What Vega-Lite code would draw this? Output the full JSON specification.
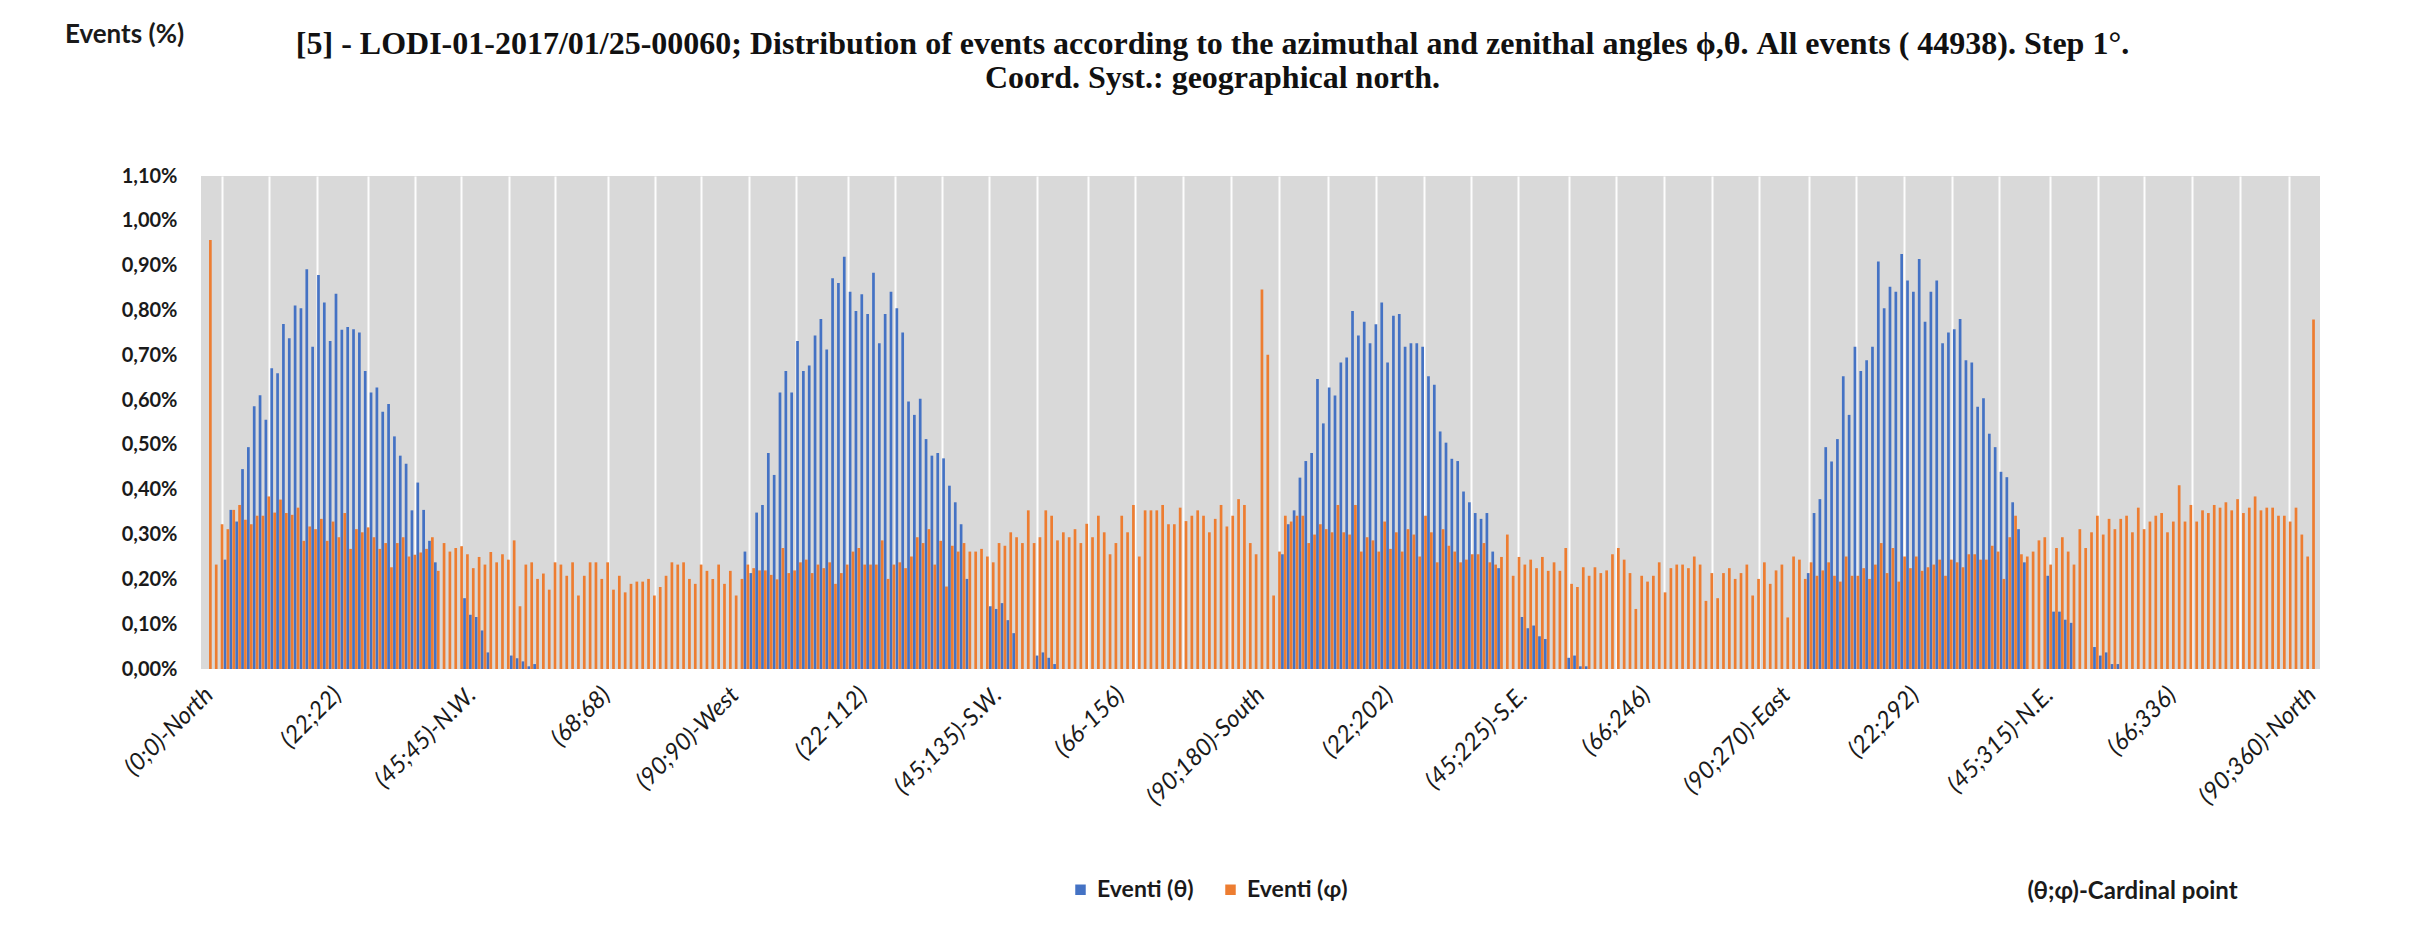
{
  "$schema": "https://vega.github.io/schema/vega-lite/v6.json",
  "width": 2119,
  "height": 493,
  "autosize": "none",
  "padding": {"left": 201, "top": 176, "right": 100, "bottom": 257},
  "background": "white",
  "config": {
    "font": "Lato",
    "view": {"stroke": null, "fill": "#D9D9D9"},
    "legend": {"orient": "none", "legendX": 868, "legendY": 702, "direction": "horizontal", "title": null, "symbolType": "square", "symbolSize": 110, "symbolStrokeWidth": 0, "labelFont": "Lato", "labelFontSize": 23, "labelFontWeight": "bold", "labelColor": "#1a1a1a", "columnPadding": 26, "symbolOffset": 0, "labelOffset": 5}
  },
  "title": {
    "text": ["[5] - LODI-01-2017/01/25-00060; Distribution of events according to the azimuthal and zenithal angles ϕ,θ. All events ( 44938). Step 1°.", "Coord. Syst.: geographical north."],
    "anchor": "middle",
    "frame": "group",
    "font": "Liberation Serif",
    "fontSize": 32,
    "fontWeight": "bold",
    "color": "#111111",
    "lineHeight": 34,
    "offset": -74,
    "dx": -48
  },
  "data": {"values": [
{"c":0,"t":0,"p":0.957},{"c":1,"t":0,"p":0.233},{"c":2,"t":0,"p":0.323},{"c":3,"t":0.244,"p":0.312},{"c":4,"t":0.355,"p":0.355},{"c":5,"t":0.329,"p":0.366},{"c":6,"t":0.446,"p":0.333},{"c":7,"t":0.495,"p":0.323},{"c":8,"t":0.586,"p":0.342},{"c":9,"t":0.611,"p":0.342},
{"c":10,"t":0.556,"p":0.385},{"c":11,"t":0.671,"p":0.349},{"c":12,"t":0.66,"p":0.378},{"c":13,"t":0.77,"p":0.348},{"c":14,"t":0.738,"p":0.344},{"c":15,"t":0.811,"p":0.36},{"c":16,"t":0.805,"p":0.286},{"c":17,"t":0.892,"p":0.318},{"c":18,"t":0.719,"p":0.312},{"c":19,"t":0.879,"p":0.335},
{"c":20,"t":0.818,"p":0.286},{"c":21,"t":0.732,"p":0.329},{"c":22,"t":0.837,"p":0.294},{"c":23,"t":0.757,"p":0.348},{"c":24,"t":0.763,"p":0.268},{"c":25,"t":0.758,"p":0.312},{"c":26,"t":0.751,"p":0.305},{"c":27,"t":0.665,"p":0.316},{"c":28,"t":0.617,"p":0.294},{"c":29,"t":0.628,"p":0.268},
{"c":30,"t":0.574,"p":0.281},{"c":31,"t":0.591,"p":0.227},{"c":32,"t":0.519,"p":0.281},{"c":33,"t":0.476,"p":0.294},{"c":34,"t":0.458,"p":0.251},{"c":35,"t":0.354,"p":0.255},{"c":36,"t":0.416,"p":0.26},{"c":37,"t":0.355,"p":0.268},{"c":38,"t":0.286,"p":0.294},{"c":39,"t":0.238,"p":0.219},
{"c":40,"t":0,"p":0.281},{"c":41,"t":0,"p":0.262},{"c":42,"t":0,"p":0.27},{"c":43,"t":0,"p":0.274},{"c":44,"t":0.158,"p":0.256},{"c":45,"t":0.121,"p":0.225},{"c":46,"t":0.116,"p":0.25},{"c":47,"t":0.086,"p":0.233},{"c":48,"t":0.037,"p":0.261},{"c":49,"t":0,"p":0.238},
{"c":50,"t":0,"p":0.256},{"c":51,"t":0,"p":0.244},{"c":52,"t":0.03,"p":0.287},{"c":53,"t":0.024,"p":0.14},{"c":54,"t":0.017,"p":0.233},{"c":55,"t":0.006,"p":0.238},{"c":56,"t":0.011,"p":0.201},{"c":57,"t":0,"p":0.213},{"c":58,"t":0,"p":0.177},{"c":59,"t":0,"p":0.238},
{"c":60,"t":0,"p":0.233},{"c":61,"t":0,"p":0.208},{"c":62,"t":0,"p":0.238},{"c":63,"t":0,"p":0.164},{"c":64,"t":0,"p":0.208},{"c":65,"t":0,"p":0.238},{"c":66,"t":0,"p":0.238},{"c":67,"t":0,"p":0.201},{"c":68,"t":0,"p":0.238},{"c":69,"t":0,"p":0.177},
{"c":70,"t":0,"p":0.208},{"c":71,"t":0,"p":0.171},{"c":72,"t":0,"p":0.19},{"c":73,"t":0,"p":0.195},{"c":74,"t":0,"p":0.195},{"c":75,"t":0,"p":0.201},{"c":76,"t":0,"p":0.164},{"c":77,"t":0,"p":0.183},{"c":78,"t":0,"p":0.208},{"c":79,"t":0,"p":0.238},
{"c":80,"t":0,"p":0.233},{"c":81,"t":0,"p":0.238},{"c":82,"t":0,"p":0.201},{"c":83,"t":0,"p":0.19},{"c":84,"t":0,"p":0.233},{"c":85,"t":0,"p":0.219},{"c":86,"t":0,"p":0.201},{"c":87,"t":0,"p":0.233},{"c":88,"t":0,"p":0.19},{"c":89,"t":0,"p":0.219},
{"c":90,"t":0,"p":0.164},{"c":91,"t":0,"p":0.201},{"c":92,"t":0.262,"p":0.233},{"c":93,"t":0.214,"p":0.225},{"c":94,"t":0.349,"p":0.22},{"c":95,"t":0.366,"p":0.22},{"c":96,"t":0.482,"p":0.21},{"c":97,"t":0.433,"p":0.2},{"c":98,"t":0.617,"p":0.27},{"c":99,"t":0.665,"p":0.214},
{"c":100,"t":0.617,"p":0.22},{"c":101,"t":0.732,"p":0.238},{"c":102,"t":0.665,"p":0.244},{"c":103,"t":0.677,"p":0.214},{"c":104,"t":0.744,"p":0.233},{"c":105,"t":0.781,"p":0.225},{"c":106,"t":0.713,"p":0.238},{"c":107,"t":0.872,"p":0.19},{"c":108,"t":0.861,"p":0.214},{"c":109,"t":0.92,"p":0.233},
{"c":110,"t":0.842,"p":0.262},{"c":111,"t":0.799,"p":0.27},{"c":112,"t":0.836,"p":0.233},{"c":113,"t":0.792,"p":0.233},{"c":114,"t":0.884,"p":0.233},{"c":115,"t":0.727,"p":0.287},{"c":116,"t":0.792,"p":0.201},{"c":117,"t":0.842,"p":0.233},{"c":118,"t":0.805,"p":0.238},{"c":119,"t":0.751,"p":0.225},
{"c":120,"t":0.597,"p":0.251},{"c":121,"t":0.567,"p":0.294},{"c":122,"t":0.603,"p":0.281},{"c":123,"t":0.513,"p":0.312},{"c":124,"t":0.476,"p":0.233},{"c":125,"t":0.482,"p":0.286},{"c":126,"t":0.47,"p":0.184},{"c":127,"t":0.409,"p":0.275},{"c":128,"t":0.372,"p":0.262},{"c":129,"t":0.323,"p":0.281},
{"c":130,"t":0.201,"p":0.262},{"c":131,"t":0,"p":0.262},{"c":132,"t":0,"p":0.268},{"c":133,"t":0,"p":0.251},{"c":134,"t":0.14,"p":0.238},{"c":135,"t":0.134,"p":0.281},{"c":136,"t":0.147,"p":0.275},{"c":137,"t":0.109,"p":0.305},{"c":138,"t":0.08,"p":0.294},{"c":139,"t":0,"p":0.281},
{"c":140,"t":0,"p":0.354},{"c":141,"t":0,"p":0.281},{"c":142,"t":0.03,"p":0.294},{"c":143,"t":0.037,"p":0.354},{"c":144,"t":0.025,"p":0.342},{"c":145,"t":0.011,"p":0.287},{"c":146,"t":0,"p":0.305},{"c":147,"t":0,"p":0.294},{"c":148,"t":0,"p":0.312},{"c":149,"t":0,"p":0.281},
{"c":150,"t":0,"p":0.324},{"c":151,"t":0,"p":0.294},{"c":152,"t":0,"p":0.342},{"c":153,"t":0,"p":0.305},{"c":154,"t":0,"p":0.256},{"c":155,"t":0,"p":0.281},{"c":156,"t":0,"p":0.342},{"c":157,"t":0,"p":0.305},{"c":158,"t":0,"p":0.366},{"c":159,"t":0,"p":0.251},
{"c":160,"t":0,"p":0.354},{"c":161,"t":0,"p":0.354},{"c":162,"t":0,"p":0.354},{"c":163,"t":0,"p":0.366},{"c":164,"t":0,"p":0.323},{"c":165,"t":0,"p":0.323},{"c":166,"t":0,"p":0.36},{"c":167,"t":0,"p":0.33},{"c":168,"t":0,"p":0.342},{"c":169,"t":0,"p":0.354},
{"c":170,"t":0,"p":0.342},{"c":171,"t":0,"p":0.305},{"c":172,"t":0,"p":0.335},{"c":173,"t":0,"p":0.366},{"c":174,"t":0,"p":0.318},{"c":175,"t":0,"p":0.342},{"c":176,"t":0,"p":0.379},{"c":177,"t":0,"p":0.366},{"c":178,"t":0,"p":0.281},{"c":179,"t":0,"p":0.256},
{"c":180,"t":0,"p":0.847},{"c":181,"t":0,"p":0.701},{"c":182,"t":0,"p":0.164},{"c":183,"t":0,"p":0.262},{"c":184,"t":0.256,"p":0.342},{"c":185,"t":0.323,"p":0.329},{"c":186,"t":0.354,"p":0.342},{"c":187,"t":0.427,"p":0.342},{"c":188,"t":0.464,"p":0.281},{"c":189,"t":0.482,"p":0.3},
{"c":190,"t":0.647,"p":0.323},{"c":191,"t":0.548,"p":0.312},{"c":192,"t":0.628,"p":0.305},{"c":193,"t":0.61,"p":0.366},{"c":194,"t":0.684,"p":0.305},{"c":195,"t":0.695,"p":0.3},{"c":196,"t":0.799,"p":0.366},{"c":197,"t":0.744,"p":0.262},{"c":198,"t":0.775,"p":0.294},{"c":199,"t":0.727,"p":0.287},
{"c":200,"t":0.769,"p":0.262},{"c":201,"t":0.818,"p":0.329},{"c":202,"t":0.684,"p":0.268},{"c":203,"t":0.788,"p":0.305},{"c":204,"t":0.792,"p":0.262},{"c":205,"t":0.719,"p":0.312},{"c":206,"t":0.727,"p":0.3},{"c":207,"t":0.727,"p":0.251},{"c":208,"t":0.719,"p":0.342},{"c":209,"t":0.653,"p":0.305},
{"c":210,"t":0.634,"p":0.238},{"c":211,"t":0.53,"p":0.312},{"c":212,"t":0.505,"p":0.275},{"c":213,"t":0.469,"p":0.262},{"c":214,"t":0.464,"p":0.238},{"c":215,"t":0.396,"p":0.244},{"c":216,"t":0.372,"p":0.256},{"c":217,"t":0.348,"p":0.256},{"c":218,"t":0.335,"p":0.281},{"c":219,"t":0.348,"p":0.238},
{"c":220,"t":0.262,"p":0.233},{"c":221,"t":0.225,"p":0.25},{"c":222,"t":0,"p":0.3},{"c":223,"t":0,"p":0.208},{"c":224,"t":0,"p":0.25},{"c":225,"t":0.116,"p":0.233},{"c":226,"t":0.091,"p":0.244},{"c":227,"t":0.097,"p":0.225},{"c":228,"t":0.073,"p":0.25},{"c":229,"t":0.067,"p":0.219},
{"c":230,"t":0,"p":0.238},{"c":231,"t":0,"p":0.219},{"c":232,"t":0,"p":0.27},{"c":233,"t":0.025,"p":0.19},{"c":234,"t":0.03,"p":0.183},{"c":235,"t":0.006,"p":0.227},{"c":236,"t":0.006,"p":0.208},{"c":237,"t":0,"p":0.227},{"c":238,"t":0,"p":0.214},{"c":239,"t":0,"p":0.22},
{"c":240,"t":0,"p":0.256},{"c":241,"t":0,"p":0.27},{"c":242,"t":0,"p":0.244},{"c":243,"t":0,"p":0.214},{"c":244,"t":0,"p":0.134},{"c":245,"t":0,"p":0.208},{"c":246,"t":0,"p":0.195},{"c":247,"t":0,"p":0.208},{"c":248,"t":0,"p":0.238},{"c":249,"t":0,"p":0.171},
{"c":250,"t":0,"p":0.225},{"c":251,"t":0,"p":0.233},{"c":252,"t":0,"p":0.233},{"c":253,"t":0,"p":0.225},{"c":254,"t":0,"p":0.251},{"c":255,"t":0,"p":0.233},{"c":256,"t":0,"p":0.152},{"c":257,"t":0,"p":0.214},{"c":258,"t":0,"p":0.158},{"c":259,"t":0,"p":0.214},
{"c":260,"t":0,"p":0.225},{"c":261,"t":0,"p":0.201},{"c":262,"t":0,"p":0.214},{"c":263,"t":0,"p":0.233},{"c":264,"t":0,"p":0.164},{"c":265,"t":0,"p":0.201},{"c":266,"t":0,"p":0.238},{"c":267,"t":0,"p":0.19},{"c":268,"t":0,"p":0.22},{"c":269,"t":0,"p":0.233},
{"c":270,"t":0,"p":0.115},{"c":271,"t":0,"p":0.251},{"c":272,"t":0,"p":0.244},{"c":273,"t":0,"p":0.201},{"c":274,"t":0.214,"p":0.238},{"c":275,"t":0.348,"p":0.208},{"c":276,"t":0.379,"p":0.22},{"c":277,"t":0.495,"p":0.238},{"c":278,"t":0.463,"p":0.208},{"c":279,"t":0.513,"p":0.195},
{"c":280,"t":0.653,"p":0.251},{"c":281,"t":0.567,"p":0.208},{"c":282,"t":0.719,"p":0.208},{"c":283,"t":0.665,"p":0.225},{"c":284,"t":0.689,"p":0.201},{"c":285,"t":0.719,"p":0.233},{"c":286,"t":0.909,"p":0.281},{"c":287,"t":0.805,"p":0.214},{"c":288,"t":0.853,"p":0.27},{"c":289,"t":0.842,"p":0.195},
{"c":290,"t":0.926,"p":0.251},{"c":291,"t":0.867,"p":0.225},{"c":292,"t":0.842,"p":0.251},{"c":293,"t":0.915,"p":0.219},{"c":294,"t":0.775,"p":0.227},{"c":295,"t":0.842,"p":0.233},{"c":296,"t":0.867,"p":0.244},{"c":297,"t":0.727,"p":0.208},{"c":298,"t":0.751,"p":0.244},{"c":299,"t":0.758,"p":0.238},
{"c":300,"t":0.781,"p":0.227},{"c":301,"t":0.689,"p":0.256},{"c":302,"t":0.684,"p":0.256},{"c":303,"t":0.585,"p":0.244},{"c":304,"t":0.604,"p":0.244},{"c":305,"t":0.525,"p":0.275},{"c":306,"t":0.495,"p":0.262},{"c":307,"t":0.44,"p":0.201},{"c":308,"t":0.428,"p":0.294},{"c":309,"t":0.372,"p":0.342},
{"c":310,"t":0.312,"p":0.256},{"c":311,"t":0.238,"p":0.251},{"c":312,"t":0,"p":0.262},{"c":313,"t":0,"p":0.287},{"c":314,"t":0,"p":0.294},{"c":315,"t":0.208,"p":0.233},{"c":316,"t":0.128,"p":0.27},{"c":317,"t":0.128,"p":0.294},{"c":318,"t":0.11,"p":0.262},{"c":319,"t":0.103,"p":0.233},
{"c":320,"t":0,"p":0.312},{"c":321,"t":0,"p":0.27},{"c":322,"t":0,"p":0.305},{"c":323,"t":0.049,"p":0.342},{"c":324,"t":0.03,"p":0.3},{"c":325,"t":0.037,"p":0.335},{"c":326,"t":0.011,"p":0.312},{"c":327,"t":0.011,"p":0.335},{"c":328,"t":0,"p":0.342},{"c":329,"t":0,"p":0.305},
{"c":330,"t":0,"p":0.36},{"c":331,"t":0,"p":0.312},{"c":332,"t":0,"p":0.329},{"c":333,"t":0,"p":0.342},{"c":334,"t":0,"p":0.348},{"c":335,"t":0,"p":0.305},{"c":336,"t":0,"p":0.329},{"c":337,"t":0,"p":0.41},{"c":338,"t":0,"p":0.329},{"c":339,"t":0,"p":0.366},
{"c":340,"t":0,"p":0.329},{"c":341,"t":0,"p":0.354},{"c":342,"t":0,"p":0.348},{"c":343,"t":0,"p":0.366},{"c":344,"t":0,"p":0.36},{"c":345,"t":0,"p":0.372},{"c":346,"t":0,"p":0.354},{"c":347,"t":0,"p":0.379},{"c":348,"t":0,"p":0.348},{"c":349,"t":0,"p":0.36},
{"c":350,"t":0,"p":0.385},{"c":351,"t":0,"p":0.354},{"c":352,"t":0,"p":0.36},{"c":353,"t":0,"p":0.36},{"c":354,"t":0,"p":0.342},{"c":355,"t":0,"p":0.342},{"c":356,"t":0,"p":0.329},{"c":357,"t":0,"p":0.36},{"c":358,"t":0,"p":0.3},{"c":359,"t":0,"p":0.251},
{"c":360,"t":0,"p":0.78}
  ]},
  "layer": [
    {
      "mark": {"type": "bar", "orient": "vertical", "width": 2.7, "xOffset": -1.45},
      "encoding": {
        "x": {"field": "c", "type": "quantitative", "scale": {"domain": [-0.5, 360.5], "nice": false, "zero": false},
          "axis": {"orient": "bottom", "values": [0,22,45,68,90,112,135,156,180,202,225,246,270,292,315,336,360], "grid": false, "domain": false, "ticks": false,
            "labelAngle": -45, "labelAlign": "right", "labelBaseline": "middle", "labelPadding": 22, "labelFont": "Lato", "labelFontSize": 24, "labelFontStyle": "italic", "labelColor": "#1a1a1a", "labelOverlap": false, "labelFlush": false, "labelBound": false,
            "labelExpr": "datum.value==0?'(0;0)-North':datum.value==22?'(22;22)':datum.value==45?'(45;45)-N.W.':datum.value==68?'(68;68)':datum.value==90?'(90;90)-West':datum.value==112?'(22-112)':datum.value==135?'(45;135)-S.W.':datum.value==156?'(66-156)':datum.value==180?'(90;180)-South':datum.value==202?'(22;202)':datum.value==225?'(45;225)-S.E.':datum.value==246?'(66;246)':datum.value==270?'(90;270)-East':datum.value==292?'(22;292)':datum.value==315?'(45;315)-N.E.':datum.value==336?'(66;336)':'(90;360)-North'",
            "title": "(θ;φ)-Cardinal point", "titleX": 1931, "titleY": 222, "titleAlign": "center", "titleBaseline": "middle", "titleFont": "Lato", "titleFontSize": 24, "titleFontWeight": "bold", "titleColor": "#1a1a1a"}},
        "y": {"field": "t", "type": "quantitative", "scale": {"domain": [0, 1.1], "nice": false, "zero": true},
          "axis": {"values": [0,0.1,0.2,0.3,0.4,0.5,0.6,0.7,0.8,0.9,1.0,1.1], "grid": false, "domain": false, "ticks": false, "labelPadding": 24, "labelFont": "Lato", "labelFontSize": 20, "labelFontWeight": "bold", "labelColor": "#1a1a1a",
            "labelExpr": "replace(format(datum.value, '.2f'), '.', ',') + '%'",
            "title": "Events (%)", "titleAngle": 0, "titleX": -77, "titleY": -142, "titleAlign": "center", "titleBaseline": "middle", "titleFont": "Lato", "titleFontSize": 26, "titleFontWeight": "bold", "titleColor": "#1a1a1a"}},
        "color": {"datum": "Eventi (θ)", "type": "nominal", "scale": {"domain": ["Eventi (θ)", "Eventi (φ)"], "range": ["#4472C4", "#ED7D31"]}}
      }
    },
    {
      "mark": {"type": "bar", "orient": "vertical", "width": 2.7, "xOffset": 1.45},
      "encoding": {
        "x": {"field": "c", "type": "quantitative",
          "axis": {"orient": "top", "values": [2.25,10.36,18.43,27.2,35.3,43.1,51.4,59.3,68.3,76.4,84.3,92.4,100.5,109.4,117.4,125.5,133.6,141.7,150.5,158.6,166.8,175.0,183.2,191.6,199.8,208.0,216.0,224.1,232.8,240.8,249.0,257.2,265.3,273.9,282.0,290.2,298.3,306.4,315.1,323.3,331.3,339.5,347.6,356.0],
            "grid": true, "gridColor": "#ffffff", "gridWidth": 2, "gridOpacity": 0.95, "labels": false, "ticks": false, "domain": false, "title": null}},
        "y": {"field": "p", "type": "quantitative"},
        "color": {"datum": "Eventi (φ)", "type": "nominal"}
      }
    }
  ],
  "resolve": {"axis": {"x": "independent"}}
}
